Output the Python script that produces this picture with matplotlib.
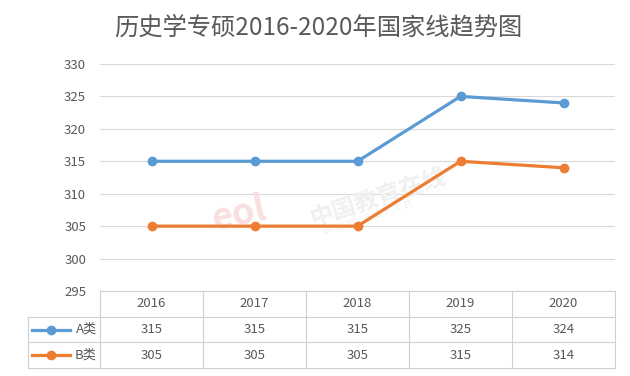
import matplotlib
matplotlib.use('Agg')
import matplotlib.pyplot as plt
import numpy as np

plt.rcParams['font.family'] = ['Noto Sans CJK SC', 'DejaVu Sans']

# data
years = ['2016', '2017', '2018', '2019', '2020']
a_vals = [315, 315, 315, 325, 324]
b_vals = [305, 305, 305, 315, 314]
series_names = ['A类', 'B类']
series_colors = ['#5B9BD5', '#ED7D31']
title = '历史学专硕2016-2020年国家线趋势图'

W, H = 630, 376
fig = plt.figure(figsize=(W / 100, H / 100), dpi=100)

text_c = '#595959'
grid_c = '#D9D9D9'

# main plot area
x = np.arange(len(years)) + 0.5
ax = fig.add_axes([100 / W, 1 - 291 / H, 515 / W, (291 - 64) / H])
for vals, c in zip([a_vals, b_vals], series_colors):
    ax.plot(x, vals, color=c, linewidth=2.3, marker='o', markersize=6, zorder=3)
ax.set_xlim(0, len(years))
ax.set_ylim(295, 330)
ax.set_yticks(np.arange(295, 331, 5))
ax.tick_params(axis='y', length=0, labelsize=9.5, labelcolor=text_c, pad=10)
ax.set_xticks([])
ax.grid(axis='y', color=grid_c, linewidth=0.8)
for s in ax.spines.values():
    s.set_visible(False)
ax.set_axisbelow(True)

# watermark
ax.text(2.7, 309.5, '中国教育在线', fontsize=17, color='#F0F0F0', rotation=18,
        ha='center', va='center', zorder=1, fontweight='bold')
ax.text(2.6, 306.3, 'w w w . e o l . c n', fontsize=9, color='#F0F0F0', rotation=18,
        ha='center', va='center', zorder=1)
ax.text(1.35, 307, 'eol', fontsize=26, color='#F9E0E0', rotation=12, style='italic',
        fontweight='bold', ha='center', va='center', zorder=1)

fig.text(318 / W, 1 - 28 / H, title, fontsize=17.5, color=text_c, ha='center', va='center')

# data table
lab_w = 72 / 103
tab = fig.add_axes([28 / W, 1 - 368 / H, 587 / W, (368 - 291) / H])
tab.set_xlim(-lab_w, len(years))
tab.set_ylim(0, 3)
tab.axis('off')
lc = '#D0D0D0'
lw = 0.8
# horizontal lines
tab.plot([0, len(years)], [3, 3], color=lc, lw=lw, clip_on=False)
for yy in [0, 1, 2]:
    tab.plot([-lab_w, len(years)], [yy, yy], color=lc, lw=lw, clip_on=False)
# vertical lines
for xx in range(len(years) + 1):
    tab.plot([xx, xx], [0, 3], color=lc, lw=lw, clip_on=False)
tab.plot([-lab_w, -lab_w], [0, 2], color=lc, lw=lw, clip_on=False)

for i, yr in enumerate(years):
    tab.text(i + 0.5, 2.5, yr, ha='center', va='center', fontsize=9.5, color=text_c)
for r, (name, vals, c) in enumerate(zip(series_names, [a_vals, b_vals], series_colors)):
    yc = 1.5 - r
    tab.plot([-lab_w + 0.04, -lab_w + 0.41], [yc, yc], color=c, lw=2.3, clip_on=False)
    tab.plot([-lab_w + 0.225], [yc], color=c, marker='o', markersize=6, clip_on=False)
    tab.text(-0.03, yc, name, ha='right', va='center', fontsize=9.5, color=text_c)
    for i, v in enumerate(vals):
        tab.text(i + 0.5, yc, str(v), ha='center', va='center', fontsize=9.5, color=text_c)

fig.savefig('out.png', dpi=100, facecolor='white')
